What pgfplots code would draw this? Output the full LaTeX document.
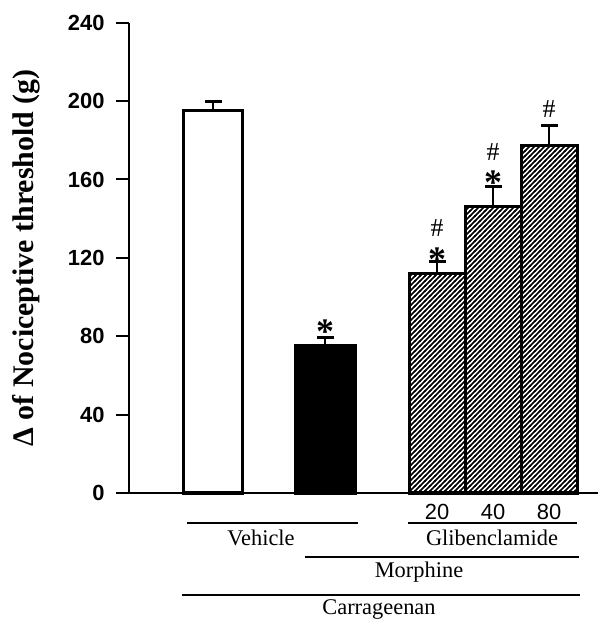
\documentclass[border=0pt]{standalone}
\usepackage{fontspec}
\setmainfont{Liberation Serif}
\newfontfamily\arial{Liberation Sans}
\usepackage{pgfplots}
\pgfplotsset{compat=1.18}
\usetikzlibrary{patterns.meta}

\tikzdeclarepattern{
  name=diag,
  type=colored,
  bottom left={(-0.1bp,-0.1bp)},
  top right={(5.1bp,5.1bp)},
  tile size={(5bp,5bp)},
  code={
    \draw[black, line width=1.5bp] (-1bp,-1bp) -- (6bp,6bp);
    \draw[black, line width=1.5bp] (-1bp,4bp) -- (1bp,6bp);
    \draw[black, line width=1.5bp] (4bp,-1bp) -- (6bp,1bp);
  }
}

\begin{document}
\begin{tikzpicture}
\useasboundingbox (0,0) rectangle (603bp,621bp);
\begin{axis}[
  at={(129bp,128bp)}, anchor=south west,
  scale only axis, width=469bp, height=470.3bp,
  xmin=129, xmax=598, ymin=0, ymax=240,
  axis lines*=left,
  axis line style={line width=2bp},
  xtick=\empty,
  ytick={0,40,...,240},
  tick align=outside, major tick length=13bp,
  tick style={line width=2bp, black},
  yticklabel style={font=\arial\bfseries\fontsize{22}{22}\selectfont, xshift=-8bp},
  /pgf/number format/assume math mode=true,
  ylabel={Δ of Nociceptive threshold (g)},
  ylabel style={font=\bfseries\fontsize{30}{30}\selectfont,
    at={(axis description cs:-0.22,0.5)}, anchor=center},
  ybar, clip=false,
  every axis plot post/.append style={bar shift=0pt},
  error bars/y dir=plus, error bars/y explicit,
  error bars/error mark=none,
  error bars/error bar style={black, line width=2.5bp},
]
\addplot[fill=white, draw=black, line width=3bp, bar width=59]
  coordinates {(213,195) +- (0,5)};
\addplot[fill=black, draw=black, line width=3bp, bar width=60]
  coordinates {(325,75.5) +- (0,3.8)};
\addplot[pattern=diag, draw=black, line width=3bp, bar width=56]
  coordinates {(437,112) +- (0,6) (493,146.4) +- (0,10) (549,177.3) +- (0,10.2)};
% caps of the error bars (mean + s.e.m.)
\addplot[only marks, mark=-, mark size=8.5bp, mark options={line width=3bp, black}]
  coordinates {(213,200) (325,79.3) (437,118) (493,156.4) (549,187.5)};

% significance marks
\node[inner sep=0pt, font=\bfseries\fontsize{36}{36}\selectfont] at (axis cs:325,82.5) {*};
\node[inner sep=0pt, font=\bfseries\fontsize{36}{36}\selectfont] at (axis cs:437,119) {*};
\node[inner sep=0pt, font=\bfseries\fontsize{36}{36}\selectfont] at (axis cs:493,158.5) {*};
\node[inner sep=0pt, font=\fontsize{26}{26}\selectfont] at (axis cs:437,135) {\#};
\node[inner sep=0pt, font=\fontsize{26}{26}\selectfont] at (axis cs:493,174) {\#};
\node[inner sep=0pt, font=\fontsize{26}{26}\selectfont] at (axis cs:549,195.7) {\#};

% treatment labels under the axis
\node[font=\arial\fontsize{22}{22}\selectfont] at (axis cs:437,-9.7) {20};
\node[font=\arial\fontsize{22}{22}\selectfont] at (axis cs:493,-9.7) {40};
\node[font=\arial\fontsize{22}{22}\selectfont] at (axis cs:549,-9.7) {80};
\draw[line width=1.6bp] (axis cs:187,-15.3) -- (axis cs:358,-15.3);
\draw[line width=1.6bp] (axis cs:408,-15.3) -- (axis cs:577,-15.3);
\node[font=\fontsize{22.5}{22.5}\selectfont] at (axis cs:261,-22.9) {Vehicle};
\node[font=\fontsize{22.5}{22.5}\selectfont] at (axis cs:492,-22.9) {Glibenclamide};
\draw[line width=1.6bp] (axis cs:305,-32.6) -- (axis cs:579,-32.6);
\node[font=\fontsize{22.5}{22.5}\selectfont] at (axis cs:419,-40.3) {Morphine};
\draw[line width=1.6bp] (axis cs:182,-52) -- (axis cs:580,-52);
\node[font=\fontsize{22.5}{22.5}\selectfont] at (axis cs:379,-59.6) {Carrageenan};
\end{axis}
\end{tikzpicture}
\end{document}
